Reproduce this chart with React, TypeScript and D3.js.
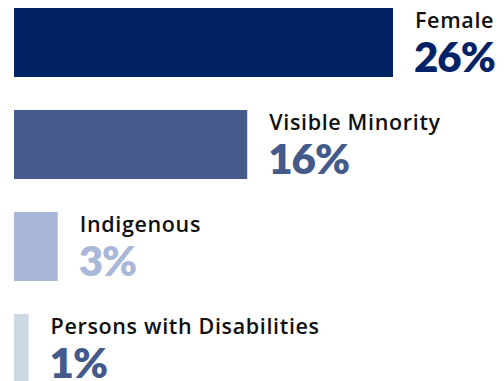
import React from "react";
import * as d3 from "d3";

const categories = ["Female", "Visible Minority", "Indigenous", "Persons with Disabilities"];
const values = [26, 16, 3, 1];
const barColors = ["#022266", "#435a8a", "#a9b8d9", "#ccd8e4"];
const valueColors = ["#022266", "#435a8a", "#a9b8d9", "#435a8a"];

const W = 504;
const H = 381;

export default function App() {
  const x = d3.scaleLinear().domain([0, 26]).range([14, 393]);
  const y = d3.scalePoint<string>().domain(categories).range([8, 314]);
  const barH = 69;
  return (
    <svg
      width={W}
      height={H}
      style={{ position: "absolute", left: 0, top: 0, display: "block" }}
    >
      {categories.map((c, i) => {
        const top = y(c)!;
        const end = x(values[i]);
        return (
          <g key={c}>
            <rect x={x(0)} y={top} width={end - x(0)} height={barH} fill={barColors[i]} />
            <text
              x={end + 22}
              y={top + 19.5}
              fontFamily="'Open Sans', sans-serif"
              fontWeight={600}
              fontSize={21.5}
              letterSpacing={0.65}
              fill="#111"
            >
              {c}
            </text>
            <text
              x={end + 21}
              y={top + 63.5}
              fontFamily="Lato, sans-serif"
              fontWeight={800}
              fontSize={42}
              letterSpacing={-1}
              fill={valueColors[i]}
            >
              {d3.format("d")(values[i])}%
            </text>
          </g>
        );
      })}
    </svg>
  );
}
